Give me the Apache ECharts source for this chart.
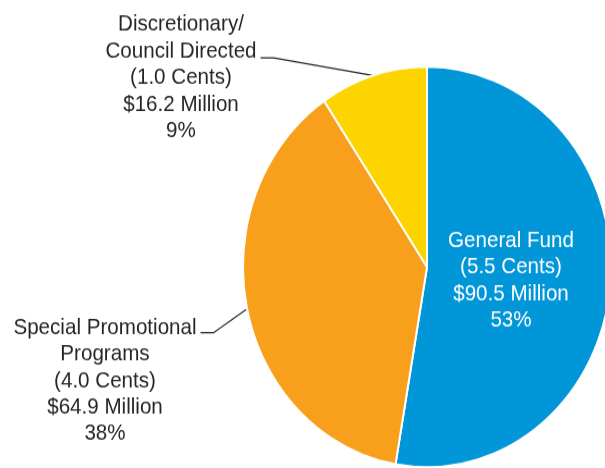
<!DOCTYPE html>
<html>
<head>
<meta charset="utf-8">
<script src="https://cdn.jsdelivr.net/npm/echarts@6/dist/echarts.min.js"></script>
<style>
  html, body { margin: 0; padding: 0; background: #ffffff; }
  #frame { width: 605px; height: 468px; overflow: hidden; position: relative; }
  /* the chart is laid out 430px tall and stretched to fill the 468px frame */
  #chart { width: 605px; height: 430px; transform-origin: 0 0; transform: scaleY(1.0884); }
</style>
</head>
<body>
<div id="frame"><div id="chart"></div></div>
<script>
// Allocation of the tax revenue
const categories = ['General Fund', 'Special Promotional\nPrograms', 'Discretionary/\nCouncil Directed'];
const cents = [5.5, 4.0, 1.0];
const millions = [90.5, 64.9, 16.2];
const colors = ['#0096d8', '#f8a01b', '#fcd500'];

const LINE_H = 24.4;

// label block centres; leader lines leave from the right side at the given text line
const labelSpots = [
  { x: 511, y: 258 },
  { x: 105, y: 350, line: 0, drop: 4.5 },
  { x: 181, y: 71.5, line: 1, drop: 6 }
];

const chart = echarts.init(document.getElementById('chart'), null, { renderer: 'canvas' });

const seriesData = categories.map(function (name, i) {
  const inside = i === 0;
  return {
    name: name,
    value: millions[i],
    itemStyle: { color: colors[i] },
    label: inside
      ? { position: 'inside', color: '#ffffff' }
      : { position: 'outside', color: '#262626' },
    labelLine: { show: !inside }
  };
});

chart.setOption({
  animation: false,
  backgroundColor: '#ffffff',
  series: [{
    type: 'pie',
    center: [427, 245.3],
    radius: 184,
    startAngle: 90,
    clockwise: true,
    avoidLabelOverlap: false,
    data: seriesData,
    itemStyle: { borderColor: '#ffffff', borderWidth: 2 },
    label: {
      show: true,
      fontFamily: '"Liberation Sans", Arial, sans-serif',
      fontSize: 20.6,
      lineHeight: LINE_H,
      align: 'center',
      formatter: function (p) {
        const i = p.dataIndex;
        return p.name + '\n(' + cents[i].toFixed(1) + ' Cents)\n$' +
          p.value.toFixed(1) + ' Million\n' + Math.round(p.percent) + '%';
      }
    },
    labelLine: {
      length: 10,
      length2: 10,
      lineStyle: { color: '#262626', width: 1.2 }
    },
    labelLayout: function (p) {
      const spot = labelSpots[p.dataIndex];
      const out = { x: spot.x, y: spot.y, align: 'center', verticalAlign: 'middle' };
      if (spot.line != null && p.labelLinePoints) {
        const right = spot.x + p.labelRect.width / 2;
        const top = spot.y - p.labelRect.height / 2;
        const ly = top + LINE_H * (spot.line + 0.5) + spot.drop;
        const edge = p.labelLinePoints[0];
        out.labelLinePoints = [edge, [right + 17, ly], [right + 4, ly]];
      }
      return out;
    }
  }]
});
</script>
</body>
</html>
